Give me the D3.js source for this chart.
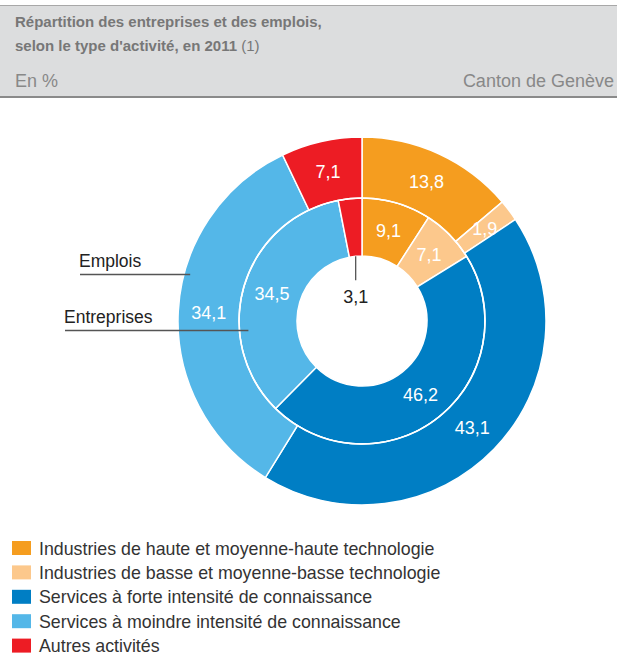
<!DOCTYPE html>
<html>
<head>
<meta charset="utf-8">
<script src="https://cdn.jsdelivr.net/npm/d3@7"></script>
<style>
  body { margin: 0; background: #fff; }
  svg text { font-family: "Liberation Sans", Arial, Helvetica, sans-serif; }
</style>
</head>
<body>
<svg class="chart" width="617" height="655"></svg>
<script>
// categories and values (in %)
let categories = [
    "Industries de haute et moyenne-haute technologie",
    "Industries de basse et moyenne-basse technologie",
    "Services à forte intensité de connaissance",
    "Services à moindre intensité de connaissance",
    "Autres activités"
]
let entreprises = [9.1, 7.1, 46.2, 34.5, 3.1]
let emplois = [13.8, 1.9, 43.1, 34.1, 7.1]
let colors = ["#f59d1f", "#fcc88c", "#007ec4", "#54b7e8", "#ed1c24"]

let width = 617
let height = 655
const center = {x: 362, y: 321}
const r_hole = 65, r_mid = 123, r_out = 184

let svg = d3.select(".chart")

// header band
svg.append("rect")
    .attr("x", 0).attr("y", 5)
    .attr("width", width).attr("height", 92)
    .attr("fill", "#dcddde")
svg.append("line")
    .attr("x1", 0).attr("x2", width)
    .attr("y1", 5.5).attr("y2", 5.5)
    .attr("stroke", "#a8a8a8")
svg.append("line")
    .attr("x1", 0).attr("x2", width)
    .attr("y1", 97).attr("y2", 97)
    .attr("stroke", "#8a8a8a")
    .attr("stroke-width", 2)

svg.append("text")
    .attr("x", 15).attr("y", 27)
    .attr("fill", "#777")
    .style("font-size", "15px")
    .style("font-weight", "bold")
    .text("Répartition des entreprises et des emplois,")

let t2 = svg.append("text")
    .attr("x", 15).attr("y", 51)
    .attr("fill", "#777")
    .style("font-size", "15px")
t2.append("tspan").style("font-weight", "bold").text("selon le type d'activité, en 2011 ")
t2.append("tspan").text("(1)")

svg.append("text")
    .attr("x", 15).attr("y", 87)
    .attr("fill", "#888")
    .style("font-size", "18px")
    .text("En %")

svg.append("text")
    .attr("x", 614).attr("y", 87)
    .attr("text-anchor", "end")
    .attr("fill", "#888")
    .style("font-size", "18px")
    .text("Canton de Genève")

// donut rings
let pie = d3.pie().sort(null).value(d => d)

let g = svg.append("g")
    .attr("transform", `translate(${center.x}, ${center.y})`)

function draw_ring(values, r0, r1, cls) {
    let arc = d3.arc().innerRadius(r0).outerRadius(r1)
    let arcs = pie(values)

    g.append("g")
        .selectAll("path." + cls)
        .data(arcs)
        .enter()
        .append("path")
        .classed(cls, true)
        .attr("d", arc)
        .attr("fill", (d, i) => colors[i])
        .attr("stroke", "#fff")
        .attr("stroke-width", 1.5)

    arcs.forEach(d => {
        if (d.value < 4 && cls === "inner") {
            // small slice: leader line into the hole
            let a = (d.startAngle + d.endAngle) / 2
            let x0 = Math.sin(a) * r0
            let y0 = -Math.cos(a) * r0
            g.append("line")
                .attr("x1", x0).attr("x2", x0)
                .attr("y1", y0).attr("y2", y0 + 24)
                .attr("stroke", "#555")
                .attr("stroke-width", 1.3)
            g.append("text")
                .attr("x", x0).attr("y", y0 + 47)
                .attr("text-anchor", "middle")
                .attr("fill", "#222")
                .style("font-size", "18px")
                .text(String(d.value).replace(".", ","))
            return
        }
        let c = arc.centroid(d)
        g.append("text")
            .attr("x", c[0]).attr("y", c[1])
            .attr("dy", "0.35em")
            .attr("text-anchor", "middle")
            .attr("fill", "#fff")
            .style("font-size", "18px")
            .text(String(d.value).replace(".", ","))
    })
}

draw_ring(entreprises, r_hole, r_mid, "inner")
draw_ring(emplois, r_mid, r_out, "outer")

// ring boundary
g.append("circle")
    .attr("r", r_mid)
    .attr("fill", "none")
    .attr("stroke", "#fff")
    .attr("stroke-width", 1.5)

// ring annotations
let notes = [
    {label: "Emplois", x: 79, y: 267, r: r_out - 6},
    {label: "Entreprises", x: 64, y: 323, r: r_mid - 9}
]
notes.forEach(n => {
    let yl = n.y + 7.5
    let dy = yl - center.y
    let xEnd = center.x - Math.sqrt(Math.max(0, n.r * n.r - dy * dy))
    svg.append("text")
        .attr("x", n.x).attr("y", n.y)
        .attr("fill", "#222")
        .style("font-size", "17.5px")
        .text(n.label)
    svg.append("line")
        .attr("x1", n.x + 1).attr("x2", xEnd)
        .attr("y1", yl).attr("y2", yl)
        .attr("stroke", "#555")
        .attr("stroke-width", 1.3)
})

// legend
let legend = svg.append("g")
    .selectAll("g.leg")
    .data(categories)
    .enter()
    .append("g")
    .classed("leg", true)
    .attr("transform", (d, i) => `translate(12, ${541 + i * 24.4})`)

legend.append("rect")
    .attr("width", 19).attr("height", 14)
    .attr("fill", (d, i) => colors[i])

legend.append("text")
    .attr("x", 27).attr("y", 13.5)
    .attr("fill", "#333")
    .style("font-size", "17.8px")
    .text(d => d)
</script>
</body>
</html>
